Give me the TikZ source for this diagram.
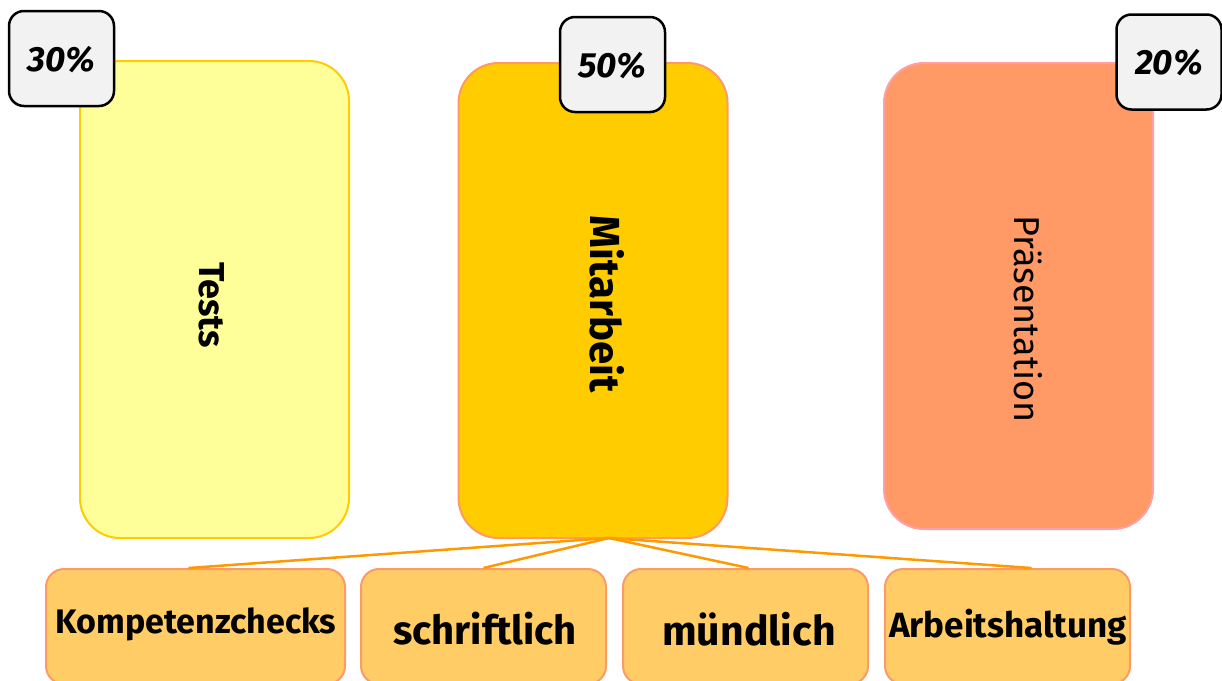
\documentclass[tikz,border=0pt]{standalone}
\usepackage{fontspec}
\setmainfont{Fira Sans}
\definecolor{testfill}{HTML}{FFFF99}
\definecolor{teststroke}{HTML}{FFCC00}
\definecolor{mitfill}{HTML}{FFCC00}
\definecolor{mitstroke}{HTML}{FF9966}
\definecolor{prfill}{HTML}{FF9966}
\definecolor{prstroke}{HTML}{FF9FA6}
\definecolor{subfill}{HTML}{FFCC66}
\definecolor{substroke}{HTML}{FF9966}
\definecolor{conn}{HTML}{FF9900}
\definecolor{pctfill}{HTML}{F2F2F2}
\tikzset{
  bigbox/.style={draw, line width=2pt, rounded corners=40pt, minimum width=269pt, inner sep=0pt},
  subbox/.style={draw=substroke, fill=subfill, line width=2pt, rounded corners=18pt, minimum height=115pt, inner sep=0pt},
  pctbox/.style={draw=black, fill=pctfill, line width=2.5pt, rounded corners=15pt, minimum width=105pt, minimum height=95pt, inner sep=0pt,
    font=\fontsize{35}{40}\selectfont\bfseries\itshape, text depth=0pt},
  vlabel/.style={rotate=-90, inner sep=0pt},
  sublabel/.style={inner sep=0pt, font=\fontsize{34}{40}\selectfont\bfseries},
  connector/.style={draw=conn, line width=2.5pt}
}
\begin{document}
\begin{tikzpicture}[x=1pt,y=-1pt]
\useasboundingbox (0,0) rectangle (1222,680);
\begin{scope}
\clip (0,0) rectangle (1222,680);
% big boxes
\node[bigbox, draw=teststroke, fill=testfill, minimum height=477pt] (tests) at (214.5,299.5) {};
\node[bigbox, draw=mitstroke, fill=mitfill, minimum height=475pt] (mit) at (593,300.5) {};
\node[bigbox, draw=prstroke, fill=prfill, minimum height=466pt] (pr) at (1018.5,296) {};
\node[vlabel, font=\fontsize{36}{42}\selectfont\bfseries] (tl) at (212,305) {Tests};
\node[vlabel, font=\fontsize{42}{48}\selectfont\bfseries] (ml) at (607,304) {Mitarbeit};
\node[vlabel, font=\fontsize{36}{42}\selectfont] (pl) at (1028,319) {Präsentation};
% sub boxes
\node[subbox, minimum width=299pt] (k) at (195.5,626.5) {};
\node[subbox, minimum width=245pt] (s) at (483.5,626.5) {};
\node[subbox, minimum width=245pt] (m) at (745.5,626.5) {};
\node[subbox, minimum width=245pt] (a) at (1007.5,626.5) {};
\node[sublabel] (kl) at (196,624) {Kompetenzchecks};
\node[sublabel, font=\fontsize{40}{46}\selectfont\bfseries] (sl) at (485,629) {schriftlich};
\node[sublabel, font=\fontsize{41}{46}\selectfont\bfseries] (ml2) at (749,629) {mündlich};
\node[sublabel, font=\fontsize{35}{40}\selectfont\bfseries] (al) at (1008,627) {Arbeitshaltung};
% connectors
\coordinate (hub) at (609,538);
\draw[connector] (hub) -- ([xshift=-7pt]k.north);
\draw[connector] (hub) -- (s.north);
\draw[connector] (hub) -- ([xshift=3pt]m.north);
\draw[connector] (hub) -- ([xshift=24pt]a.north);
% percent boxes
\node[pctbox] (p30) at (61.5,58.5) {30\%};
\node[pctbox] (p50) at (612.5,64.5) {50\%};
\node[pctbox] (p20) at (1169,62) {20\%};
\end{scope}
\end{tikzpicture}
\end{document}
